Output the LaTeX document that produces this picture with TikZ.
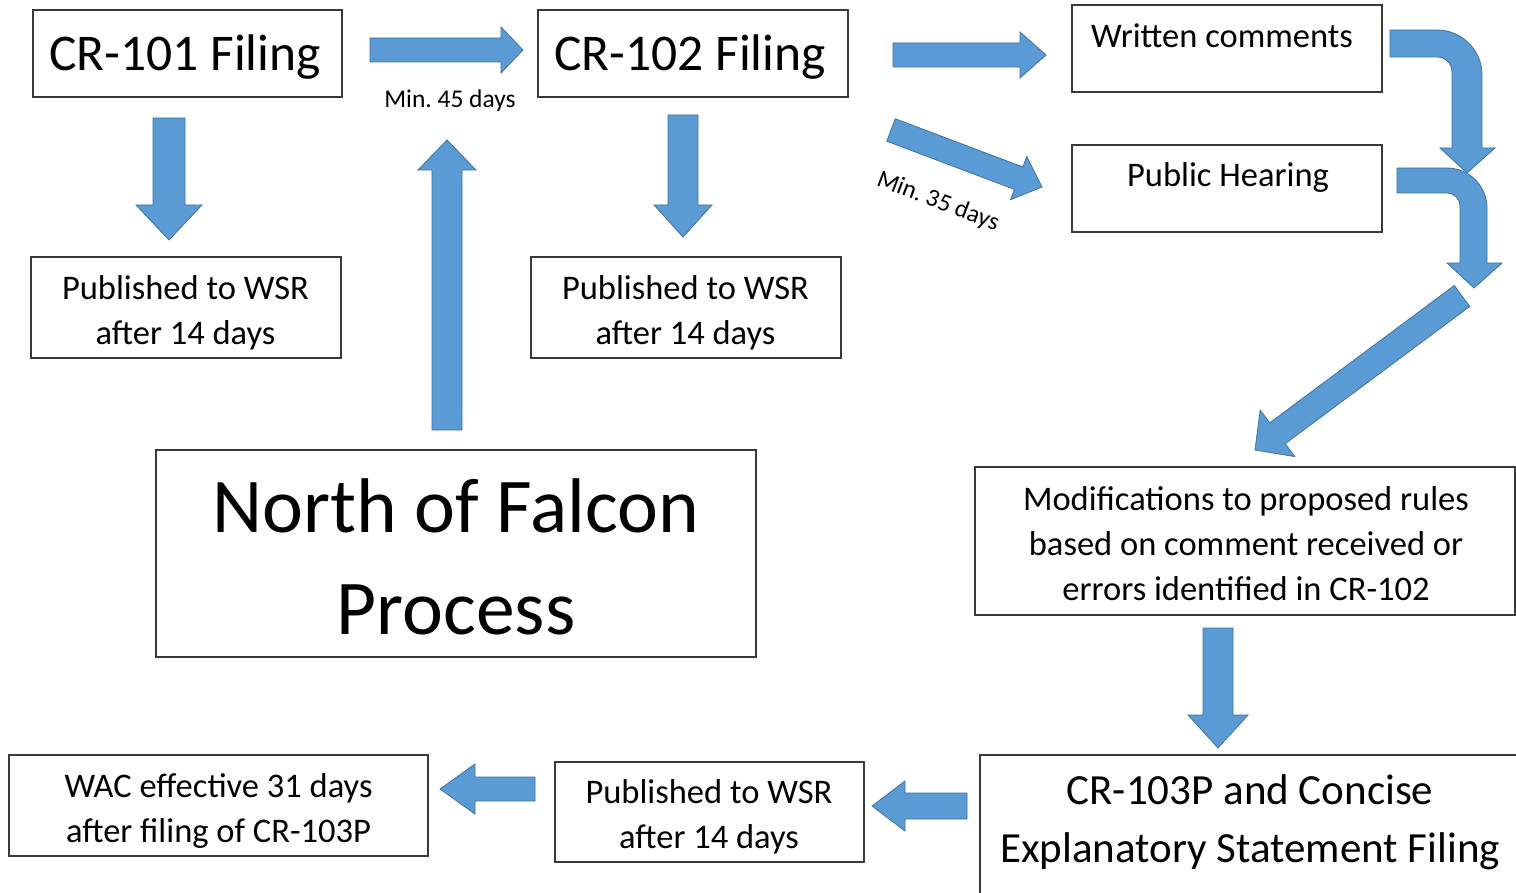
\documentclass[tikz,border=0pt]{standalone}
\usepackage{fontspec}
\setmainfont{Carlito}
\usetikzlibrary{calc}
\frenchspacing
\definecolor{arrowfill}{HTML}{5B9BD5}
\definecolor{arrowline}{HTML}{41719C}
\definecolor{boxline}{HTML}{3A3A3A}
\tikzset{
  box/.style={draw=boxline, line width=1.3pt, inner sep=0pt},
  lbl/.style={inner sep=0pt, align=center, text=black},
  small/.style={lbl, font=\fontsize{34.5}{45}\selectfont},
  blk/.style={fill=arrowfill, draw=arrowline, line width=0.8pt, line join=miter},
}
\newcommand\blockarrow[5]{%
  \coordinate (ba-h) at ($(#2)!#5!(#1)$);
  \path[blk] ($(#1)!#3!90:(#2)$) -- ($(ba-h)!#3!90:(#2)$) -- ($(ba-h)!#4!90:(#2)$)
    -- (#2) -- ($(ba-h)!#4!-90:(#2)$) -- ($(ba-h)!#3!-90:(#2)$) -- ($(#1)!#3!-90:(#2)$) -- cycle;
}
\begin{document}
\begin{tikzpicture}[x=1pt,y=-1pt]
\useasboundingbox (0,0) rectangle (1516,893);
\clip (0,0) rectangle (1516,893);
\fill[white] (0,0) rectangle (1516,893);

% boxes
\node[box, minimum width=309pt, minimum height=87pt] (cr101) at (187.5,53.5) {};
\node[box, minimum width=310pt, minimum height=87pt] (cr102) at (693,53.5) {};
\node[box, minimum width=310pt, minimum height=87pt] (written) at (1227,48.5) {};
\node[box, minimum width=310pt, minimum height=87pt] (hearing) at (1227,188.5) {};
\node[box, minimum width=310pt, minimum height=101pt] (pub1) at (186,307.5) {};
\node[box, minimum width=310pt, minimum height=101pt] (pub2) at (686,307.5) {};
\node[box, minimum width=600pt, minimum height=207pt] (nof) at (456,553.5) {};
\node[box, minimum width=540pt, minimum height=148pt] (mod) at (1245,541) {};
\node[box, minimum width=560pt, minimum height=160pt] (cr103) at (1260,835) {};
\node[box, minimum width=309pt, minimum height=100pt] (pub3) at (709.5,812) {};
\node[box, minimum width=419pt, minimum height=101pt] (wac) at (218.5,805.5) {};

% texts
\node[lbl, font=\fontsize{51.5}{60}\selectfont] (cr101txt) at (185,57) {CR-101 Filing};
\node[lbl, font=\fontsize{51.5}{60}\selectfont] (cr102txt) at (690,57) {CR-102 Filing};
\node[small] (writtentxt) at (1222,36) {Written comments};
\node[small] (hearingtxt) at (1228,177) {Public Hearing};
\node[small] (pub1txt) at (185.5,312.5) {Published to WSR\\after 14 days};
\node[small] (pub2txt) at (685.5,312.5) {Published to WSR\\after 14 days};
\node[lbl, font=\fontsize{77.5}{102}\selectfont] (noftxt) at (456,557) {North of Falcon\\Process};
\node[small] (modtxt) at (1246,543.5) {Modifications to proposed rules\\based on comment received or\\errors identified in CR-102};
\node[lbl, font=\fontsize{43}{58}\selectfont] (cr103txt) at (1250,822) {CR-103P and Concise\\Explanatory Statement Filing};
\node[small] (pub3txt) at (709,817) {Published to WSR\\after 14 days};
\node[small] (wactxt) at (218.5,810.5) {WAC effective 31 days\\after filing of CR-103P};

% labels
\node[lbl, font=\fontsize{25.5}{28}\selectfont] (min45) at (450,101) {Min.\ 45 days};
\node[lbl, font=\fontsize{25}{28}\selectfont, rotate=-21] (min35) at (938,202) {Min.\ 35 days};

% connector end points
\coordinate (a1s) at (370,50);   \coordinate (a1e) at (523,50);
\coordinate (a2s) at (169,118);  \coordinate (a2e) at (169,240);
\coordinate (a3s) at (683,115);  \coordinate (a3e) at (683,237);
\coordinate (a4s) at (447,430);  \coordinate (a4e) at (447,140);
\coordinate (a5s) at (893,55);   \coordinate (a5e) at (1046,55);
\coordinate (a6s) at (891,130);  \coordinate (a6e) at (1042,187);
\coordinate (a7s) at (1462,296); \coordinate (a7e) at (1255,450);
\coordinate (a8s) at (1218,628); \coordinate (a8e) at (1218,748);
\coordinate (a9s) at (967,806);  \coordinate (a9e) at (872,806);
\coordinate (a10s) at (535,789); \coordinate (a10e) at (440,789);

\blockarrow{a1s}{a1e}{12pt}{23pt}{22pt}
\blockarrow{a2s}{a2e}{16pt}{33pt}{35pt}
\blockarrow{a3s}{a3e}{15pt}{29pt}{32pt}
\blockarrow{a4s}{a4e}{15pt}{29pt}{30pt}
\blockarrow{a5s}{a5e}{12pt}{23pt}{26pt}
\blockarrow{a6s}{a6e}{12pt}{23pt}{25pt}
\blockarrow{a7s}{a7e}{13pt}{29pt}{28pt}
\blockarrow{a8s}{a8e}{15pt}{30pt}{33pt}
\blockarrow{a9s}{a9e}{13pt}{25pt}{33pt}
\blockarrow{a10s}{a10e}{12pt}{25pt}{35pt}

% bent arrows
\path[blk] (1390,30) -- (1437,30) arc[start angle=90,end angle=0,radius=45pt]
  -- (1482,148) -- (1495,148) -- (1467,173) -- (1440,148) -- (1452,148) -- (1452,72)
  arc[start angle=0,end angle=90,radius=15pt] -- (1390,57) -- cycle;
\path[blk] (1397,168) -- (1447,168) arc[start angle=90,end angle=0,radius=40pt]
  -- (1487,263) -- (1502,263) -- (1474,288) -- (1447,263) -- (1460,263) -- (1460,206)
  arc[start angle=0,end angle=90,radius=13pt] -- (1397,193) -- cycle;
\end{tikzpicture}
\end{document}
